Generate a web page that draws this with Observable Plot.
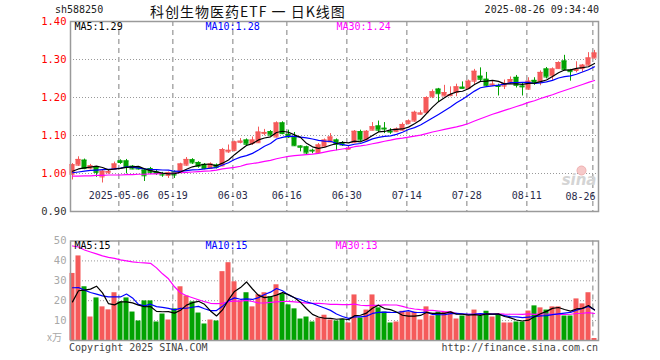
<!DOCTYPE html>
<html><head><meta charset="utf-8">
<script src="https://cdn.jsdelivr.net/npm/d3@7"></script>
<script src="https://cdn.jsdelivr.net/npm/@observablehq/plot@0.6"></script>
<style>
body{margin:0;background:#fff;}
#wrap{position:relative;width:660px;height:360px;overflow:hidden;font-family:"DejaVu Sans Mono",monospace;}
#wrap svg{position:absolute;left:0;display:block;}
.t{position:absolute;white-space:nowrap;font-size:10px;line-height:11px;font-family:"DejaVu Sans Mono",monospace;}
</style></head><body><div id="wrap"></div>
<script>
// ---- data ----
const code = "sh588250";
const title = "科创生物医药ETF 一 日K线图";
const stamp = "2025-08-26 09:34:40";
const tickIdx = [8,17,27,36,46,56,66,76,87];
const tickLabels = ["2025-05-06","05-19","06-03","06-16","06-30","07-14","07-28","08-11","08-26"];
const priceTicks = [0.90,1.00,1.10,1.20,1.30,1.40];
const volTicks = [10,20,30,40,50];

const open = [0.998,1.022,1.035,1.014,1.016,0.991,1.002,1.011,1.033,1.033,
 1.019,1.016,1.009,1.013,1.004,1.000,0.995,1.004,1.004,1.022,
 1.036,1.029,1.024,1.013,1.022,1.020,1.057,1.061,1.082,1.088,
 1.079,1.081,1.105,1.110,1.096,1.133,1.103,1.094,1.072,1.070,
 1.061,1.055,1.070,1.083,1.088,1.081,1.064,1.081,1.110,1.088,
 1.114,1.125,1.119,1.111,1.110,1.114,1.132,1.138,1.156,1.160,
 1.202,1.222,1.204,1.205,1.213,1.227,1.224,1.243,1.256,1.248,
 1.233,1.231,1.230,1.239,1.253,1.230,1.222,1.245,1.241,1.275,
 1.257,1.276,1.296,1.272,1.271,1.276,1.285,1.304];
const high = [1.026,1.044,1.038,1.024,1.018,1.009,1.008,1.030,1.036,1.037,
 1.021,1.018,1.012,1.016,1.008,1.003,1.004,1.007,1.027,1.042,
 1.039,1.031,1.026,1.028,1.025,1.066,1.075,1.085,1.092,1.091,
 1.096,1.122,1.116,1.113,1.136,1.136,1.114,1.108,1.073,1.072,
 1.064,1.079,1.091,1.105,1.091,1.084,1.071,1.113,1.114,1.113,
 1.134,1.138,1.134,1.118,1.120,1.133,1.141,1.164,1.165,1.202,
 1.220,1.224,1.232,1.228,1.235,1.241,1.246,1.274,1.278,1.266,
 1.243,1.235,1.246,1.254,1.258,1.238,1.252,1.252,1.270,1.279,
 1.278,1.294,1.311,1.274,1.294,1.287,1.318,1.324];
const low = [0.983,1.019,1.010,1.010,0.990,0.975,0.998,1.008,1.024,0.999,
 1.010,1.009,0.979,0.997,0.995,0.990,0.987,0.987,1.002,1.019,
 1.024,1.014,1.010,1.011,1.012,1.018,1.053,1.057,1.078,1.073,
 1.074,1.079,1.099,1.098,1.094,1.102,1.092,1.071,1.057,1.050,
 1.052,1.053,1.068,1.081,1.060,1.071,1.062,1.079,1.084,1.086,
 1.112,1.108,1.105,1.103,1.108,1.112,1.128,1.135,1.154,1.158,
 1.197,1.187,1.202,1.202,1.202,1.222,1.221,1.233,1.241,1.229,
 1.229,1.204,1.221,1.235,1.225,1.204,1.219,1.232,1.231,1.249,
 1.245,1.274,1.270,1.243,1.265,1.266,1.283,1.302];
const close = [1.023,1.037,1.013,1.020,1.003,1.006,1.005,1.025,1.029,1.016,
 1.012,1.012,0.994,1.003,1.000,0.996,1.002,0.996,1.025,1.037,
 1.028,1.019,1.013,1.025,1.016,1.063,1.061,1.083,1.085,1.077,
 1.088,1.109,1.108,1.101,1.133,1.105,1.096,1.073,1.069,1.054,
 1.059,1.075,1.088,1.096,1.077,1.075,1.066,1.111,1.088,1.111,
 1.123,1.114,1.117,1.109,1.117,1.129,1.138,1.161,1.159,1.200,
 1.215,1.210,1.213,1.207,1.228,1.224,1.243,1.269,1.248,1.231,
 1.235,1.229,1.237,1.247,1.232,1.228,1.243,1.239,1.266,1.254,
 1.275,1.292,1.274,1.268,1.274,1.285,1.304,1.317];
const volume = [33.7,42.5,27.0,11.8,21.4,16.9,15.4,24.0,19.4,21.4,
 14.3,9.8,19.9,19.9,9.3,13.3,10.3,15.9,27.0,22.4,
 19.4,13.8,8.3,10.3,9.8,34.6,39.1,29.5,19.9,24.0,
 16.9,23.0,24.0,22.0,28.0,23.4,17.9,15.9,10.8,11.8,
 9.3,11.3,12.7,10.3,9.8,10.6,8.8,22.9,11.3,15.3,
 22.9,16.4,14.3,8.8,9.3,14.7,14.3,14.3,10.3,16.9,
 12.3,14.3,14.2,14.3,10.8,12.3,12.3,15.3,12.3,14.7,
 11.8,12.8,8.8,8.8,9.3,9.3,14.8,17.4,16.4,15.3,
 16.9,16.9,12.3,12.3,20.9,18.4,24.0,1.0];
// moving-average values at the left edge (window reaches before the visible data)
const priceMA5Early = [1.006,1.012,1.015,1.017];
const priceMA10Early = [1.002,1.004,1.006,1.008,1.009,1.010,1.011,1.012,1.014];
const priceMA30Early = [0.993,0.993,0.994,0.994,0.995,0.995,0.996,0.996,0.996,0.997,
 0.997,0.998,0.998,0.999,0.999,1.000,1.000,1.001,1.002,1.003,
 1.004,1.005,1.006,1.007,1.009,1.012,1.014,1.016,1.019];
const volMA5Early = [19.4,25.0,25.3,25.8];
const volMA10Early = [26.5,26.6,25.3,24.1,23.3,22.4,21.9,21.9,21.9];
const volMA30Early = [47.5,47.0,45.5,44.5,43.5,42.5,41.8,41.3,40.5,40.0,
 39.5,39.2,39.0,38.8,36.5,33.5,31.0,27.0,24.0,22.5,
 21.5,20.5,19.5,18.7,18.5,18.7,19.5,19.8,19.8];

// ---- derived ----
const RED = "#f55a5a", GREEN = "#02a202";
const ma = (arr, n, early) => arr.map((_, i) => i >= n - 1 ? d3.mean(arr.slice(i - n + 1, i + 1)) : early[i]);
const pm5 = ma(close, 5, priceMA5Early), pm10 = ma(close, 10, priceMA10Early), pm30 = ma(close, 30, priceMA30Early);
const vm5 = ma(volume, 5, volMA5Early), vm10 = ma(volume, 10, volMA10Early), vm30 = ma(volume, 30, volMA30Early);
const data = close.map((c, i) => ({i, o: open[i], h: high[i], l: low[i], c, v: volume[i],
  col: c >= open[i] ? RED : GREEN, pm5: pm5[i], pm10: pm10[i], pm30: pm30[i], vm5: vm5[i], vm10: vm10[i], vm30: vm30[i]}));
const n = data.length;
const last = data[n - 1];

const MONO = "DejaVu Sans Mono";
const xDom = [-1/3, n - 1/3];
const W = 0.42;
const common = {width: 660, marginLeft: 70, marginRight: 62, style: {fontFamily: MONO, fontSize: "10px", background: "transparent", overflow: "visible"}};

const main = Plot.plot({
  ...common, height: 226, marginTop: 21, marginBottom: 15,
  x: {domain: xDom, axis: null},
  y: {domain: [0.9, 1.4], axis: null},
  marks: [
    Plot.ruleY(priceTicks.slice(1, -1), {stroke: "#999", strokeDasharray: "1,2"}),
    Plot.ruleX(tickIdx, {stroke: "#aaa", strokeWidth: 1.5, strokeDasharray: "5,4", dx: -1.7}),
    Plot.dot([0], {frameAnchor: "bottom-right", dx: -17, dy: -41, r: 4.5, fill: "#f6c9c9", stroke: "#f0b0b0", strokeWidth: 1}),
    Plot.text(["sina"], {frameAnchor: "bottom-right", textAnchor: "end", lineAnchor: "bottom", dx: -2, dy: -27, fill: "#d4d4d4", fontSize: 15, fontWeight: "bold", fontStyle: "italic", fontFamily: "DejaVu Sans"}),
    Plot.text(tickIdx.slice(0, -1), {x: d => d, text: (d, k) => tickLabels[k], frameAnchor: "bottom", lineAnchor: "middle", dy: -16, dx: -1.7, fill: "#2a2a4a", fontFamily: MONO, fontSize: 10}),
    Plot.text([tickLabels[tickLabels.length - 1]], {text: d => d, frameAnchor: "bottom-right", textAnchor: "end", lineAnchor: "middle", dx: -3, dy: -15, fill: "#2a2a4a", fontFamily: MONO, fontSize: 10}),
    Plot.ruleX(data, {x: "i", y1: "l", y2: "h", stroke: "col"}),
    Plot.rect(data, {x1: d => d.i - W, x2: d => d.i + W, y1: "o", y2: "c", fill: "col"}),
    Plot.ruleY(data, {y: "c", x1: d => d.i - W, x2: d => d.i + W, stroke: "col"}),
    Plot.ruleY(data, {y: "o", x1: d => d.i - W, x2: d => d.i + W, stroke: "col"}),
    Plot.line(data, {x: "i", y: "pm30", stroke: "#ff00ff", strokeWidth: 1.2}),
    Plot.line(data, {x: "i", y: "pm10", stroke: "#0000ff", strokeWidth: 1.2}),
    Plot.line(data, {x: "i", y: "pm5", stroke: "#000", strokeWidth: 1.2}),
    Plot.frame({stroke: "#9a9a9a", strokeWidth: 1.5}),
    Plot.text(priceTicks, {y: d => d, text: d => d.toFixed(2), frameAnchor: "left", textAnchor: "end", dx: -4, fill: d => d >= 1.0 ? "#ff0000" : "#333", fontFamily: MONO, fontSize: 10.5}),
    Plot.text([`MA5:${last.pm5.toFixed(2)}`], {text: d => d, frameAnchor: "top-left", textAnchor: "start", lineAnchor: "top", dx: 4, dy: 1.5, fill: "#000", fontFamily: MONO, fontSize: 10}),
    Plot.text([`MA10:${last.pm10.toFixed(2)}`], {text: d => d, frameAnchor: "top-left", textAnchor: "start", lineAnchor: "top", dx: 135, dy: 1.5, fill: "#0000ff", fontFamily: MONO, fontSize: 10}),
    Plot.text([`MA30:${last.pm30.toFixed(2)}`], {text: d => d, frameAnchor: "top-left", textAnchor: "start", lineAnchor: "top", dx: 266, dy: 1.5, fill: "#ff00ff", fontFamily: MONO, fontSize: 10})
  ]
});

const vol = Plot.plot({
  ...common, height: 134, marginTop: 14.5, marginBottom: 20,
  x: {domain: xDom, axis: null},
  y: {domain: [0, 50], axis: null},
  marks: [
    Plot.ruleY(volTicks.slice(0, -1), {stroke: "#999", strokeDasharray: "1,2"}),
    Plot.ruleX(tickIdx, {stroke: "#aaa", strokeWidth: 1.5, strokeDasharray: "5,4", dx: -1.7}),
    Plot.rectY(data, {x1: d => d.i - W, x2: d => d.i + W, y: "v", fill: "col"}),
    Plot.line(data, {x: "i", y: "vm30", stroke: "#ff00ff", strokeWidth: 1.2}),
    Plot.line(data, {x: "i", y: "vm10", stroke: "#0000ff", strokeWidth: 1.2}),
    Plot.line(data, {x: "i", y: "vm5", stroke: "#000", strokeWidth: 1.2}),
    Plot.frame({stroke: "#9a9a9a", strokeWidth: 1.5}),
    Plot.text(volTicks, {y: d => d, text: d => String(d), frameAnchor: "left", textAnchor: "end", dx: -4, fill: "#a8a8a8", fontFamily: MONO, fontSize: 10.5}),
    Plot.text([`MA5:${Math.floor(last.vm5)}`], {text: d => d, frameAnchor: "top-left", textAnchor: "start", lineAnchor: "top", dx: 4, dy: 1, fill: "#000", fontFamily: MONO, fontSize: 10}),
    Plot.text([`MA10:${Math.floor(last.vm10)}`], {text: d => d, frameAnchor: "top-left", textAnchor: "start", lineAnchor: "top", dx: 135, dy: 1, fill: "#0000ff", fontFamily: MONO, fontSize: 10}),
    Plot.text([`MA30:${Math.floor(last.vm30)}`], {text: d => d, frameAnchor: "top-left", textAnchor: "start", lineAnchor: "top", dx: 265, dy: 1, fill: "#ff00ff", fontFamily: MONO, fontSize: 10})
  ]
});

const wrap = document.getElementById("wrap");
main.style.top = "0px";
vol.style.top = "226px";
wrap.appendChild(main);
wrap.appendChild(vol);

function addText(txt, css) {
  const d = document.createElement("div");
  d.className = "t";
  d.textContent = txt;
  Object.assign(d.style, css);
  wrap.appendChild(d);
}
addText(code, {left: "55px", top: "4px", color: "#222"});
addText(title, {left: "150px", top: "4px", fontSize: "14px", lineHeight: "14px", letterSpacing: "1px", color: "#111", fontFamily: '"Noto Sans CJK SC", sans-serif'});
addText(stamp, {right: "61px", top: "4px", color: "#222"});
addText("x万", {left: "47px", top: "331px", color: "#a8a8a8", fontFamily: '"Noto Sans CJK SC", sans-serif'});
addText("Copyright 2025 SINA.COM", {left: "69px", top: "342px", color: "#444"});
addText("http://finance.sina.com.cn", {right: "62px", top: "342px", color: "#444"});
</script>
</body></html>
